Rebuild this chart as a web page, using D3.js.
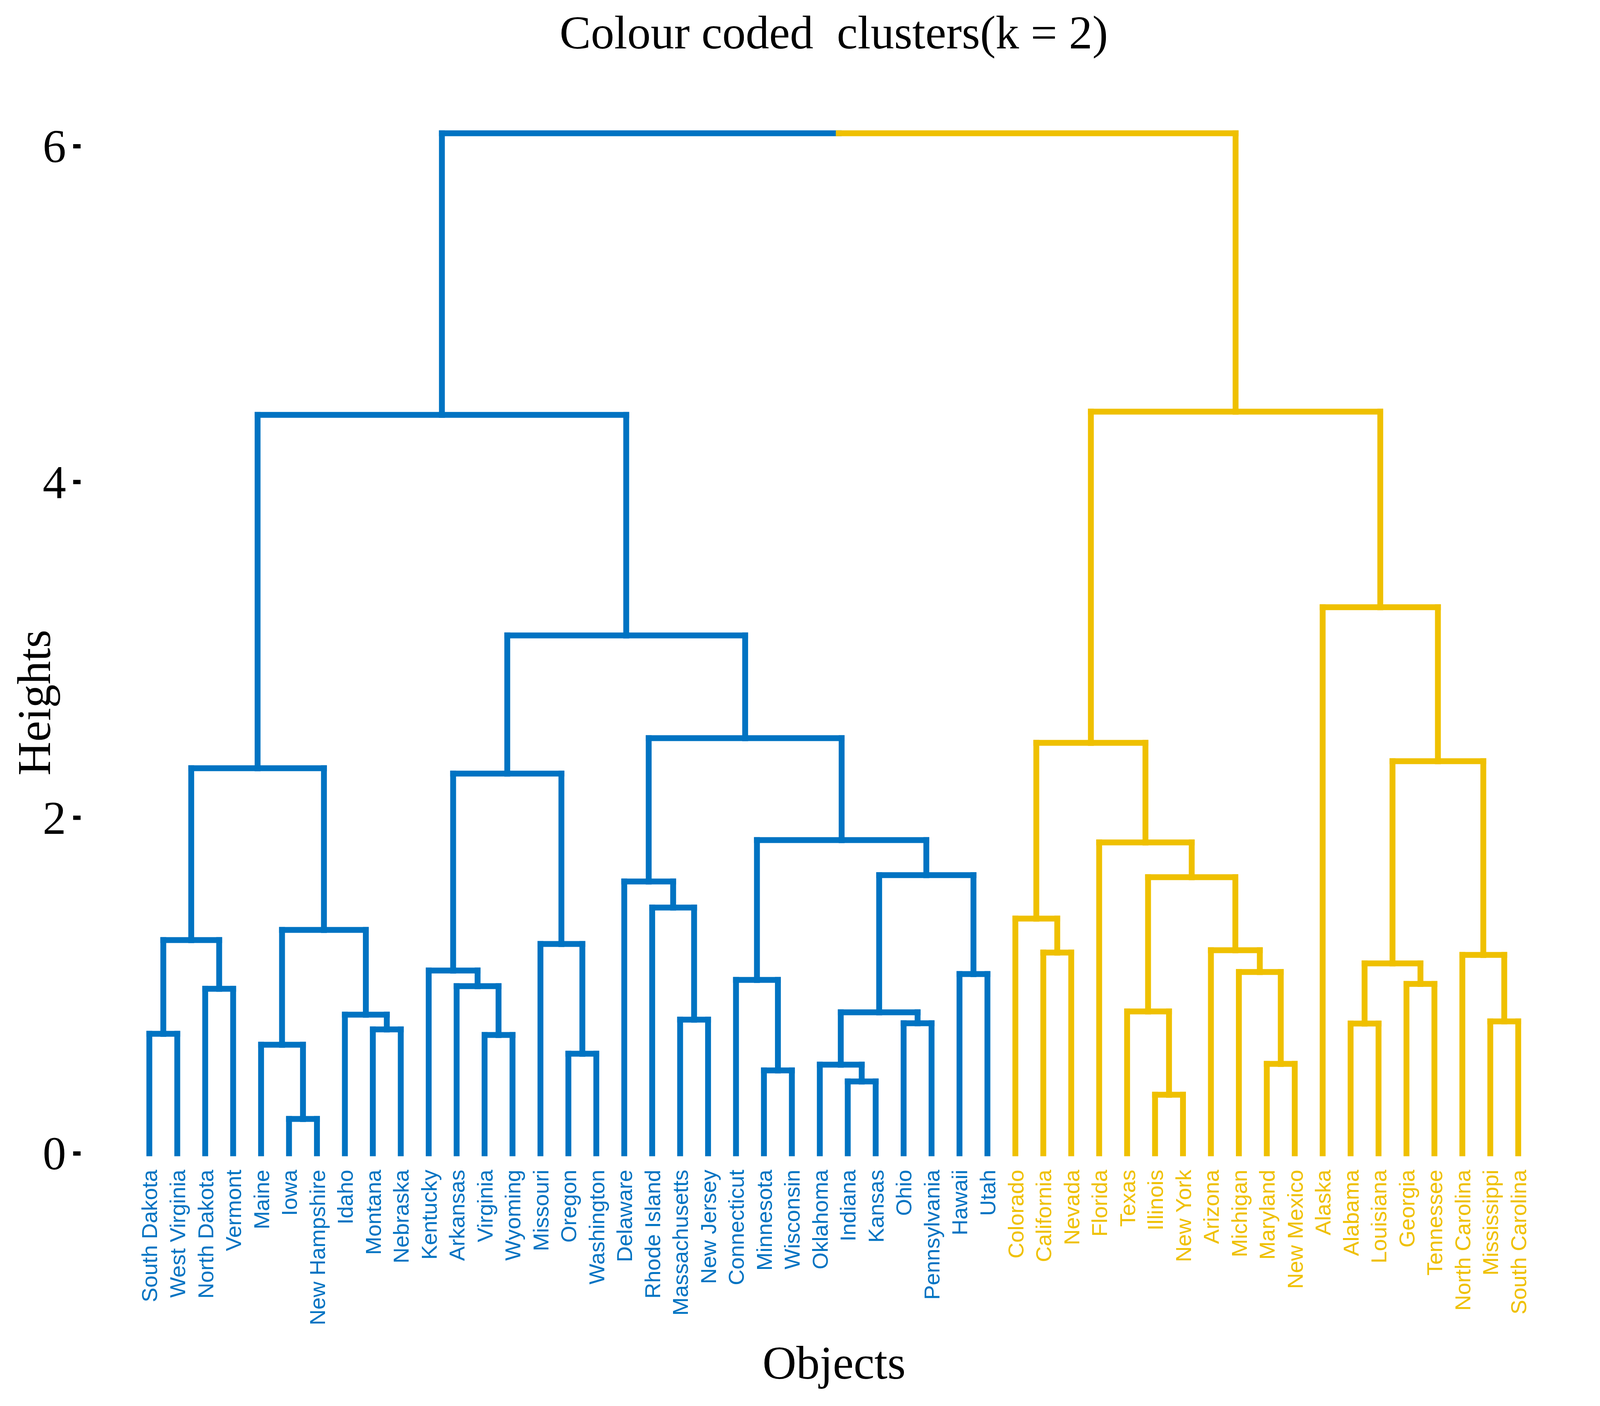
<!DOCTYPE html>
<html>
<head>
<meta charset="utf-8">
<script src="https://cdn.jsdelivr.net/npm/d3@7"></script>
<style>
  html, body { margin: 0; padding: 0; background: #ffffff; overflow: hidden; }
  svg { display: block; }
  .serif { font-family: "Liberation Serif", "Times New Roman", Times, serif; }
  .leaf { font-family: "Liberation Sans", Arial, Helvetica, sans-serif; }
</style>
</head>
<body>
<div id="chart"></div>
<script>
// leaves, in dendrogram order (left to right)
const leafLabels = [
  "South Dakota", "West Virginia", "North Dakota", "Vermont", "Maine", "Iowa",
  "New Hampshire", "Idaho", "Montana", "Nebraska", "Kentucky", "Arkansas",
  "Virginia", "Wyoming", "Missouri", "Oregon", "Washington", "Delaware",
  "Rhode Island", "Massachusetts", "New Jersey", "Connecticut", "Minnesota",
  "Wisconsin", "Oklahoma", "Indiana", "Kansas", "Ohio", "Pennsylvania",
  "Hawaii", "Utah", "Colorado", "California", "Nevada", "Florida", "Texas",
  "Illinois", "New York", "Arizona", "Michigan", "Maryland", "New Mexico",
  "Alaska", "Alabama", "Louisiana", "Georgia", "Tennessee", "North Carolina",
  "Mississippi", "South Carolina"
]

// cluster of each leaf (k = 2)
const leafCluster = [
  1, 1, 1, 1, 1, 1, 1, 1, 1, 1, 1, 1, 1, 1, 1, 1, 1, 1, 1, 1, 1, 1, 1, 1, 1,
  1, 1, 1, 1, 1, 1,
  2, 2, 2, 2, 2, 2, 2, 2, 2, 2, 2, 2, 2, 2, 2, 2, 2, 2, 2
]

// merges like R's hclust: negative = leaf (1-based position), positive = earlier merge
const merges = [
  [-6, -7], [-37, -38], [-26, -27], [-23, -24], [-25, 3], [-41, -42],
  [-16, -17], [-5, 1], [-13, -14], [-1, -2], [-9, -10], [-44, -45],
  [-28, -29], [-49, -50], [-20, -21], [-8, 11], [5, 13], [-36, 2],
  [-3, -4], [-12, 9], [-46, -47], [-22, 4], [-30, -31], [-40, 6],
  [-11, 20], [12, 21], [-48, 14], [-33, -34], [-39, 24], [-15, 7],
  [10, 19], [8, 16], [-32, 28], [-19, 15], [-18, 34], [18, 29],
  [17, 23], [-35, 36], [22, 37], [25, 30], [31, 32], [26, 27],
  [33, 38], [35, 39], [40, 44], [-43, 42], [41, 45], [43, 46], [47, 48]
]

const mergeHeights = [
  0.205, 0.349, 0.428, 0.494, 0.528, 0.533,
  0.593, 0.647, 0.705, 0.712, 0.738, 0.773,
  0.775, 0.786, 0.796, 0.826, 0.840, 0.845,
  0.980, 0.996, 1.009, 1.033, 1.068, 1.080,
  1.089, 1.131, 1.182, 1.196, 1.210, 1.247,
  1.270, 1.331, 1.398, 1.464, 1.619, 1.645,
  1.657, 1.852, 1.866, 2.262, 2.294, 2.336,
  2.445, 2.473, 3.085, 3.253, 4.399, 4.418, 6.076
]

const yTicks = [0, 2, 4, 6]
const clusterColors = { 1: "#0073C2", 2: "#EFC000" }

const chartTitle = "Colour coded  clusters(k = 2)"
const xTitle = "Objects"
const yTitle = "Heights"

// layout is worked out on a 5400x3600 design, then spread over the real window
const W = window.innerWidth || 5400
const H = window.innerHeight || 3600
const sx = W / 5400, sy = H / 3600
const lineW = 15 * Math.min(1, sy)

const svg = d3.select("#chart").append("svg")
  .attr("width", W)
  .attr("height", H)

svg.append("rect").attr("width", W).attr("height", H).attr("fill", "#fff")

const x = d3.scaleLinear().domain([1, leafLabels.length]).range([504 * sx, 5124 * sx])
const y = d3.scaleLinear().domain([0, 6]).range([2953 * sy, 374 * sy])

// node position / height / cluster (null when mixed)
function nodeInfo(ref) {
  if (ref < 0) {
    const i = -ref
    return { x: i, h: 0, c: leafCluster[i - 1] }
  }
  return mergeInfo[ref - 1]
}

const mergeInfo = []
const segs = []
merges.forEach((m, k) => {
  const a = nodeInfo(m[0]), b = nodeInfo(m[1])
  const h = mergeHeights[k]
  const mx = (a.x + b.x) / 2
  const c = (a.c === b.c) ? a.c : null
  mergeInfo.push({ x: mx, h: h, c: c })
  ;[a, b].forEach(ch => {
    // vertical from child up to merge height
    segs.push({ x1: ch.x, y1: ch.h, x2: ch.x, y2: h, c: ch.c })
    // horizontal from child to merge midpoint
    segs.push({ x1: ch.x, y1: h, x2: mx, y2: h, c: ch.c })
  })
})

svg.append("g")
  .selectAll("line")
  .data(segs)
  .join("line")
  .attr("x1", d => x(d.x1))
  .attr("y1", d => y(d.y1))
  .attr("x2", d => x(d.x2))
  .attr("y2", d => y(d.y2))
  .attr("stroke", d => clusterColors[d.c] || "#000")
  .attr("stroke-width", lineW)
  .attr("stroke-linecap", "square")

// leaf labels
svg.append("g")
  .selectAll("text")
  .data(leafLabels)
  .join("text")
  .attr("class", "leaf")
  .attr("transform", (d, i) => `translate(${x(i + 1)}, ${2995 * sy}) rotate(-90)`)
  .attr("text-anchor", "end")
  .attr("dy", "0.36em")
  .attr("font-size", 56 * sy)
  .attr("fill", (d, i) => clusterColors[leafCluster[i]])
  .text(d => d)

// y axis
const yAxis = svg.append("g")
  .attr("transform", `translate(${272 * sx}, 0)`)
  .call(d3.axisLeft(y).tickValues(yTicks).tickSize(19).tickPadding(18).tickFormat(d3.format("d")))

yAxis.select(".domain").remove()
yAxis.selectAll(".tick line").attr("stroke", "#000").attr("stroke-width", 11 * sy)
yAxis.selectAll(".tick text")
  .attr("class", "serif")
  .attr("font-size", 120 * sy)
  .attr("fill", "#000")
  .attr("dy", "0.34em")

// titles
svg.append("text")
  .attr("class", "serif")
  .attr("x", 2814 * sx).attr("y", 124 * sy)
  .attr("text-anchor", "middle")
  .attr("font-size", 120 * sy)
  .style("white-space", "pre")
  .text(chartTitle)

svg.append("text")
  .attr("class", "serif")
  .attr("x", 2815 * sx).attr("y", 3530 * sy)
  .attr("text-anchor", "middle")
  .attr("font-size", 120 * sy)
  .text(xTitle)

// y title: keep the whole text box clear of the left edge
const yTitleX = Math.max(124 * sx, 128 * sy)
svg.append("text")
  .attr("class", "serif")
  .attr("transform", `translate(${yTitleX}, ${1799 * sy}) rotate(-90)`)
  .attr("text-anchor", "middle")
  .attr("font-size", 120 * sy)
  .text(yTitle)
</script>
</body>
</html>
